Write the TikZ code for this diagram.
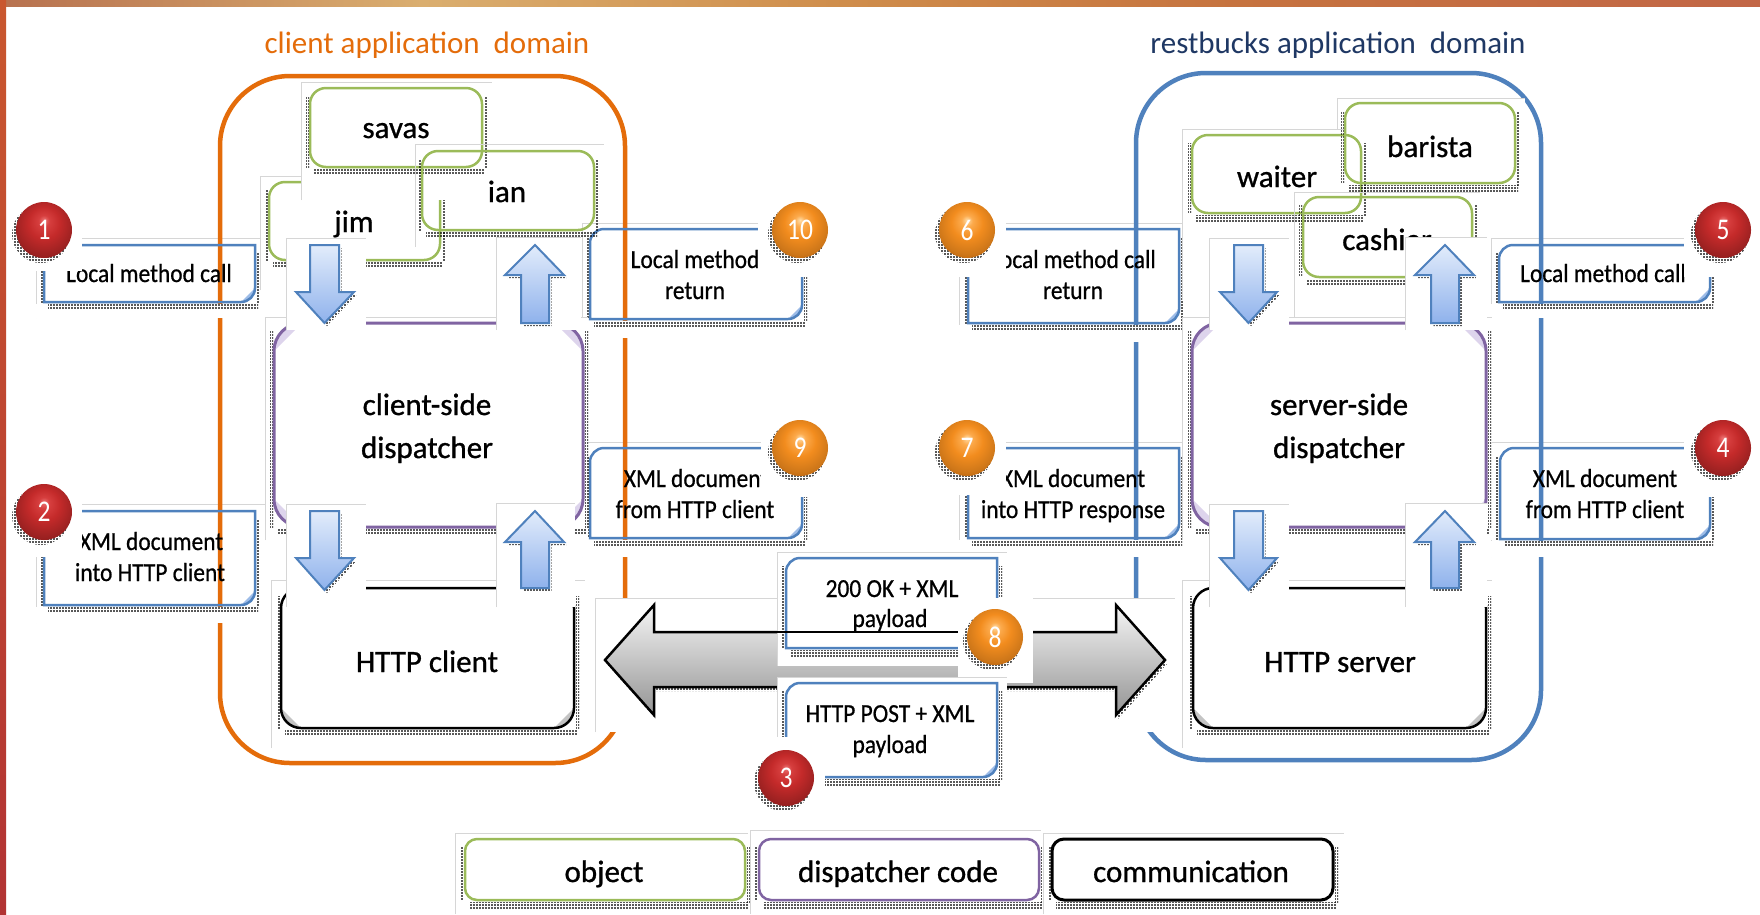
\documentclass[tikz,border=0pt]{standalone}
\usepackage{fontspec}
\setmainfont{Carlito}
\newfontfamily\lfont[FakeBold=0.9]{Carlito}
\newfontfamily\cfont[FakeStretch=0.9,FakeBold=0.7]{Carlito}
\newfontfamily\nfont[FakeStretch=0.85]{Carlito}
\usetikzlibrary{patterns}

\definecolor{domOrange}{HTML}{E46C0A}
\definecolor{domBlue}{HTML}{4F81BD}
\definecolor{titleBlue}{HTML}{1F3864}
\definecolor{objGreen}{HTML}{9BBB59}
\definecolor{dispPurple}{HTML}{8064A2}
\definecolor{dispTint}{HTML}{DDD4EC}
\definecolor{callBlue}{HTML}{4F81BD}
\definecolor{callTint}{HTML}{9DBCE8}
\definecolor{commTint}{HTML}{C4C4C4}
\definecolor{arrowTop}{HTML}{E2ECFB}
\definecolor{arrowBot}{HTML}{8FB2EC}
\definecolor{frameGray}{HTML}{D6D6D6}
\definecolor{bar1}{HTML}{B7714F}
\definecolor{bar2}{HTML}{DAAE6F}
\definecolor{bar3}{HTML}{CF8D4B}
\definecolor{bar4}{HTML}{C6733F}
\definecolor{bar5}{HTML}{C26646}
\definecolor{sideTop}{HTML}{C9572F}
\definecolor{sideBot}{HTML}{B23333}
\definecolor{redHi}{HTML}{EC7676}
\definecolor{redMid}{HTML}{D63E3E}
\definecolor{redBase}{HTML}{C42A2A}
\definecolor{redDark}{HTML}{8A1616}
\definecolor{orHi}{HTML}{FFDDA8}
\definecolor{orMid}{HTML}{FCAA4C}
\definecolor{orBase}{HTML}{F28C1E}
\definecolor{orDark}{HTML}{B35600}

\pgfdeclarehorizontalshading{barshade}{100bp}{color(0bp)=(bar1); color(25bp)=(bar1); color(37bp)=(bar2); color(49bp)=(bar3); color(60bp)=(bar4); color(75bp)=(bar5); color(100bp)=(bar5)}
\pgfdeclareradialshading{redsphere}{\pgfpoint{0bp}{9bp}}{color(0bp)=(redHi); color(5bp)=(redMid); color(14bp)=(redBase); color(26bp)=(redBase!80!black); color(34bp)=(redDark); color(50bp)=(redDark)}
\pgfdeclareradialshading{orangesphere}{\pgfpoint{0bp}{9bp}}{color(0bp)=(orHi); color(5bp)=(orMid); color(14bp)=(orBase); color(26bp)=(orBase!85!black); color(34bp)=(orDark); color(50bp)=(orDark)}

% halftone dots used for the soft shadows
\pgfdeclarepatternformonly{stipple}{\pgfqpoint{-0.7pt}{-0.7pt}}{\pgfqpoint{0.7pt}{0.7pt}}{\pgfqpoint{3pt}{3pt}}{\pgfpathrectangle{\pgfqpoint{-0.6pt}{-0.6pt}}{\pgfqpoint{1.2pt}{1.2pt}}\pgfusepath{fill}}

\tikzset{
  framec/.style={draw=frameGray, line width=0.8pt},
  dombox/.style={line width=4.5pt, rounded corners=70pt},
  obj/.style={draw=objGreen, line width=2.5pt, rounded corners=16pt},
  disp/.style={draw=dispPurple, line width=3pt, rounded corners=28pt},
  comm/.style={draw=black, line width=2.5pt, rounded corners=20pt},
  callln/.style={draw=callBlue, line width=2.5pt},
  blockarr/.style={draw=callBlue, line width=2pt, top color=arrowTop, bottom color=arrowBot},
  bigarr/.style={draw=black, line width=2.5pt, top color=black!4, bottom color=black!42},
  stipfill/.style={pattern=stipple, pattern color=black},
  ttl/.style={font=\fontsize{31}{36}\selectfont, anchor=base, inner sep=0pt},
  lbl/.style={font=\lfont\fontsize{31}{36}\selectfont, anchor=base, inner sep=0pt},
  ctext/.style={font=\cfont\fontsize{26}{30}\selectfont, anchor=base, inner sep=0pt},
  numball/.style={circle, minimum size=56pt, inner sep=0pt, shade, text=white,
                  font=\nfont\fontsize{30}{34}\selectfont},
}

% white pasted-picture backdrop with faint top/left edge
\newcommand\pframe[4]{\fill[white] (#1,#2) rectangle (#3,#4); \draw[framec] (#1,#4) -- (#1,#2) -- (#3,#2);}
\newcommand\pframelines[4]{\draw[framec] (#1,#4) -- (#1,#2) -- (#3,#2);}
\newcommand\wipe[4]{\fill[white] (#1,#2) rectangle (#3,#4);}
% dotted shadow bands round a box
\newcommand\stip[4]{%
  \fill[stipfill] (#1+4,#4+2) rectangle (#3+3,#4+8);
  \fill[stipfill] (#3+2,#2+8) rectangle (#3+5,#4+2);
  \fill[stipfill] (#1-4,#2+8) rectangle (#1-1,#4);}
% tinted segment inside a rounded corner: corner x, y, x-sign, y-sign, radius, colour
\newcommand\cornerseg[6]{%
  \fill[#6] ({#1},{#2-(#4)*#5}) .. controls ({#1},{#2-(#4)*0.4477*#5}) and ({#1-(#3)*0.4477*#5},{#2}) .. ({#1-(#3)*#5},{#2}) -- cycle;}
% box with rounded top-left and bottom-right corners
\newcommand\callbox[4]{%
  \pgfmathsetmacro\cbmx{(#1+#3)/2}%
  \pgfmathsetmacro\cbmy{(#2+#4)/2}%
  \cornerseg{#3}{#4}{1}{1}{14}{callTint}%
  \draw[callln] (#1,\cbmy) [rounded corners=14pt] -- (#1,#2) -- (\cbmx,#2) [sharp corners] -- (#3,#2) -- (#3,\cbmy)
     [rounded corners=14pt] -- (#3,#4) -- (\cbmx,#4) [sharp corners] -- (#1,#4) -- cycle;}
% dispatcher box with tinted corners
\newcommand\dispbox[4]{%
  \fill[white, rounded corners=28pt] (#1,#2) rectangle (#3,#4);
  \cornerseg{#1}{#2}{-1}{-1}{28}{dispTint}\cornerseg{#3}{#2}{1}{-1}{28}{dispTint}%
  \cornerseg{#1}{#4}{-1}{1}{28}{dispTint}\cornerseg{#3}{#4}{1}{1}{28}{dispTint}%
  \draw[disp] (#1,#2) rectangle (#3,#4);}
% communication box with shaded lower corners
\newcommand\commbox[4]{%
  \fill[white, rounded corners=20pt] (#1,#2) rectangle (#3,#4);
  \cornerseg{#1}{#4}{-1}{1}{20}{commTint}\cornerseg{#3}{#4}{1}{1}{20}{commTint}%
  \draw[comm] (#1,#2) rectangle (#3,#4);}
% numbered sphere: name, x, y, shading, label
\newcommand\ball[5]{%
  \fill[stipfill] (#2-3,#3+4) circle (29);
  \node[numball, shading=#4] (#1) at (#2,#3) {#5};}
% block arrow: shaft x1, shaft x2, tail y, head base y, head x1, head x2, tip y
\newcommand\blockarrow[7]{%
  \pgfmathsetmacro\bax{(#1+#2)/2}%
  \fill[stipfill, shift={(2.5,3)}] (#1,#3) -- (#2,#3) -- (#2,#4) -- (#6,#4) -- (\bax,#7) -- (#5,#4) -- (#1,#4) -- cycle;
  \draw[blockarr] (#1,#3) -- (#2,#3) -- (#2,#4) -- (#6,#4) -- (\bax,#7) -- (#5,#4) -- (#1,#4) -- cycle;}

\begin{document}
\begin{tikzpicture}[x=1pt,y=-1pt]
\useasboundingbox (0,0) rectangle (1760,914);
\fill[white] (0,0) rectangle (1760,914);
\shade[shading=barshade] (0,0) rectangle (1760,6);
\shade[top color=sideTop, bottom color=sideBot] (0,0) rectangle (6,914);

% domain titles
\node[ttl, text=domOrange] (title-client) at (427,53) {client application\ \ domain};
\node[ttl, text=titleBlue] (title-server) at (1338,53) {restbucks application\ \ domain};

% backdrops of the side notes
\pframe{36}{238}{261}{318}
\pframe{36}{504}{265}{623}
\pframe{582}{223}{812}{338}
\pframe{582}{442}{812}{557}
\pframe{959}{223}{1185}{342}
\pframe{959}{442}{1185}{557}
\pframe{1491}{238}{1716}{318}
\pframe{1491}{442}{1716}{557}

% application domains
\draw[dombox, draw=domOrange] (220,76) rectangle (625,763);
\draw[dombox, draw=domBlue] (1136,73) rectangle (1541,760);

% shadow strips under the side notes
\wipe{36}{304}{261}{318}
\wipe{36}{607}{265}{623}
\wipe{582}{321}{812}{338}
\wipe{582}{540}{812}{557}
\wipe{959}{325}{1185}{342}
\wipe{959}{540}{1185}{557}
\wipe{1491}{304}{1716}{318}
\wipe{1491}{541}{1716}{557}

% step 1
\stip{44}{245}{255}{302}
\callbox{44}{245}{255}{302}
\node[ctext] (c1) at (149,282) {Local method call};
\wipe{12}{196}{82}{271}
\ball{n1}{44}{230}{redsphere}{1}

% step 2
\stip{44}{511}{255}{605}
\callbox{44}{511}{255}{605}
\node[ctext] (c2a) at (151,550) {XML document};
\node[ctext] (c2b) at (150,581) {into HTTP client};
\wipe{12}{478}{82}{557}
\ball{n2}{44}{512}{redsphere}{2}

% step 10
\stip{590}{229}{802}{319}
\callbox{590}{229}{802}{319}
\node[ctext] (c10a) at (695,268) {Local method};
\node[ctext] (c10b) at (695,299) {return};
\wipe{758}{190}{840}{277}
\ball{n10}{800}{230}{orangesphere}{10}

% step 9
\stip{590}{448}{802}{538}
\callbox{590}{448}{802}{538}
\node[ctext] (c9a) at (696,487) {XML document};
\node[ctext] (c9b) at (695,518) {from HTTP client};
\wipe{761}{410}{840}{497}
\ball{n9}{800}{448}{orangesphere}{9}

% step 6
\stip{968}{229}{1179}{323}
\callbox{968}{229}{1179}{323}
\node[ctext] (c6a) at (1073,268) {Local method call};
\node[ctext] (c6b) at (1073,299) {return};
\wipe{925}{190}{1006}{277}
\ball{n6}{967}{230}{orangesphere}{6}

% step 7
\stip{968}{448}{1179}{538}
\callbox{968}{448}{1179}{538}
\node[ctext] (c7a) at (1073,487) {XML document};
\node[ctext] (c7b) at (1073,518) {into HTTP response};
\wipe{925}{410}{1006}{495}
\ball{n7}{967}{448}{orangesphere}{7}

% step 5
\stip{1499}{245}{1710}{302}
\callbox{1499}{245}{1710}{302}
\node[ctext] (c5) at (1603,282) {Local method call};
\wipe{1684}{195}{1755}{277}
\ball{n5}{1723}{230}{redsphere}{5}

% step 4
\stip{1500}{448}{1710}{539}
\callbox{1500}{448}{1710}{539}
\node[ctext] (c4a) at (1605,487) {XML document};
\node[ctext] (c4b) at (1605,518) {from HTTP client};
\wipe{1684}{410}{1755}{497}
\ball{n4}{1723}{448}{redsphere}{4}

% client objects
\pframe{260}{176}{450}{290}
\stip{269}{182}{440}{260}
\draw[obj, fill=white] (269,182) rectangle (440,260);
\pframe{301}{82}{492}{200}
\stip{310}{88}{482}{167}
\draw[obj, fill=white] (310,88) rectangle (482,167);
\pframelines{415}{144}{604}{247}
\stip{422}{151}{594}{230}
\draw[obj] (422,151) rectangle (594,230);
\node[lbl] (jim) at (354,232) {jim};
\node[lbl] (savas) at (396,138) {savas};
\node[lbl] (ian) at (507,202) {ian};

% restbucks objects
\pframe{1337}{98}{1525}{200}
\pframe{1182}{129}{1345}{300}
\stip{1192}{135}{1361}{213}
\draw[obj, fill=white] (1192,135) rectangle (1361,213);
\pframelines{1294}{192}{1480}{320}
\stip{1345}{103}{1515}{183}
\draw[obj] (1345,103) rectangle (1515,183);
\stip{1303}{197}{1472}{277}
\draw[obj] (1303,197) rectangle (1472,277);
\node[lbl] (waiter) at (1277,187) {waiter};
\node[lbl] (barista) at (1430,157) {barista};
\node[lbl] (cashier) at (1387,250) {cashier};

% dispatchers
\pframe{265}{317}{588}{540}
\stip{274}{323}{583}{527}
\dispbox{274}{323}{583}{527}
\node[lbl] (cdisp1) at (427,415) {client-side};
\node[lbl] (cdisp2) at (427,458) {dispatcher};
\pframe{1182}{317}{1492}{540}
\stip{1192}{323}{1486}{527}
\dispbox{1192}{323}{1486}{527}
\node[lbl] (sdisp1) at (1339,415) {server-side};
\node[lbl] (sdisp2) at (1339,458) {dispatcher};

% HTTP endpoints
\pframe{271}{580}{585}{748}
\stip{281}{588}{574}{728}
\commbox{281}{588}{574}{728}
\node[lbl] (hclient) at (427,672) {HTTP client};
\pframe{1182}{580}{1492}{748}
\stip{1193}{588}{1486}{728}
\commbox{1193}{588}{1486}{728}
\node[lbl] (hserver) at (1340,672) {HTTP server};

% vertical hand-offs, client side
\pframe{286}{238}{366}{330}
\blockarrow{310}{339}{245}{292}{296}{354}{323}
\pframe{496}{237}{581}{330}
\blockarrow{521}{549}{323}{275}{505}{564}{245}
\pframe{286}{504}{366}{607}
\blockarrow{310}{339}{511}{558}{296}{354}{590}
\pframe{496}{503}{575}{607}
\blockarrow{521}{549}{588}{542}{505}{564}{511}

% vertical hand-offs, server side
\pframe{1209}{238}{1289}{330}
\blockarrow{1234}{1263}{245}{292}{1220}{1277}{323}
\pframe{1405}{237}{1487}{330}
\blockarrow{1431}{1459}{323}{275}{1415}{1474}{245}
\pframe{1209}{504}{1289}{607}
\blockarrow{1234}{1263}{511}{558}{1220}{1277}{590}
\pframe{1405}{503}{1487}{607}
\blockarrow{1431}{1459}{588}{542}{1415}{1474}{511}

% network exchange
\pframe{595}{598}{1175}{732}
\fill[stipfill, shift={(2,4)}] (605,660) -- (654,605) -- (654,632) -- (1116,632) -- (1116,605) -- (1165,660) -- (1116,715) -- (1116,687) -- (654,687) -- (654,715) -- cycle;
\draw[bigarr] (605,660) -- (654,605) -- (654,632) -- (1116,632) -- (1116,605) -- (1165,660) -- (1116,715) -- (1116,687) -- (654,687) -- (654,715) -- cycle;

% step 8
\pframe{777}{552}{1007}{666}
\stip{786}{558}{997}{648}
\callbox{786}{558}{997}{648}
\draw[line width=2.5pt] (777,632) -- (958,632);
\node[ctext] (c8a) at (892,597) {200 OK + XML};
\node[ctext] (c8b) at (890,627) {payload};
\wipe{958}{598}{1033}{683}
\ball{n8}{995}{637}{orangesphere}{8}

% step 3
\pframe{777}{677}{1007}{790}
\stip{786}{683}{997}{777}
\callbox{786}{683}{997}{777}
\node[ctext] (c3a) at (890,722) {HTTP POST + XML};
\node[ctext] (c3b) at (890,753) {payload};
\wipe{745}{737}{825}{815}
\ball{n3}{786}{778}{redsphere}{3}

% legend
\pframe{455}{833}{748}{914}
\stip{465}{839}{745}{900}
\draw[obj, fill=white, rounded corners=12pt] (465,839) rectangle (745,900);
\node[lbl] (leg-obj) at (604,882) {object};
\pframe{750}{830}{1041}{914}
\stip{759}{839}{1039}{900}
\draw[disp, fill=white, line width=2.5pt, rounded corners=12pt] (759,839) rectangle (1039,900);
\node[lbl] (leg-disp) at (898,882) {dispatcher code};
\pframe{1043}{833}{1344}{914}
\stip{1052}{839}{1333}{900}
\draw[comm, fill=white, line width=3pt, rounded corners=12pt] (1052,839) rectangle (1333,900);
\node[lbl] (leg-comm) at (1191,882) {communication};
\end{tikzpicture}
\end{document}
